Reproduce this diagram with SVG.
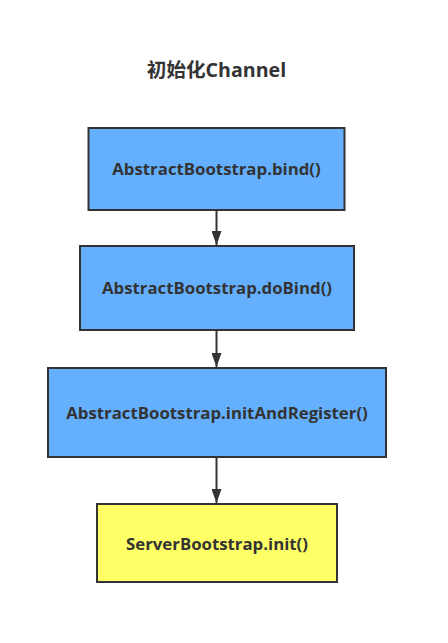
<svg xmlns="http://www.w3.org/2000/svg" width="448" height="643" viewBox="0 0 448 643">
<style>
.box{stroke:#333;stroke-width:2}
.blue{fill:#64B0FF}
.yellow{fill:#FFFF66}
.lbl{font-family:"Open Sans","Noto Sans CJK SC",sans-serif;font-weight:bold;font-size:16.8px;fill:#333;text-anchor:middle}
.title{font-family:"Open Sans","Noto Sans CJK SC",sans-serif;font-weight:bold;font-size:19.6px;fill:#333;text-anchor:middle}
.conn{stroke:#333;stroke-width:2;fill:none}
</style>
<defs>
<marker id="ah" markerWidth="14" markerHeight="10" refX="14" refY="5" orient="auto" markerUnits="userSpaceOnUse" viewBox="0 0 14 10">
<path d="M0,0 L14,5 L0,10 Z" fill="#333"/>
</marker>
</defs>
<rect width="448" height="643" fill="#fff"/>
<text class="title" x="216.5" y="76.5">初始化Channel</text>
<g id="connectors">
<line class="conn" x1="216.5" y1="211" x2="216.5" y2="245" marker-end="url(#ah)"/>
<line class="conn" x1="216.5" y1="331" x2="216.5" y2="367" marker-end="url(#ah)"/>
<line class="conn" x1="216.5" y1="458" x2="216.5" y2="503" marker-end="url(#ah)"/>
</g>
<g id="n1">
<rect class="box blue" x="88.5" y="128" width="256" height="82"/>
<text class="lbl" x="216.5" y="174.5">AbstractBootstrap.bind()</text>
</g>
<g id="n2">
<rect class="box blue" x="80" y="246" width="274" height="84"/>
<text class="lbl" x="217" y="293.5">AbstractBootstrap.doBind()</text>
</g>
<g id="n3">
<rect class="box blue" x="48" y="368" width="338" height="89"/>
<text class="lbl" x="217" y="418.5">AbstractBootstrap.initAndRegister()</text>
</g>
<g id="n4">
<rect class="box yellow" x="97" y="504" width="240" height="78"/>
<text class="lbl" x="217" y="549.5">ServerBootstrap.init()</text>
</g>
</svg>
